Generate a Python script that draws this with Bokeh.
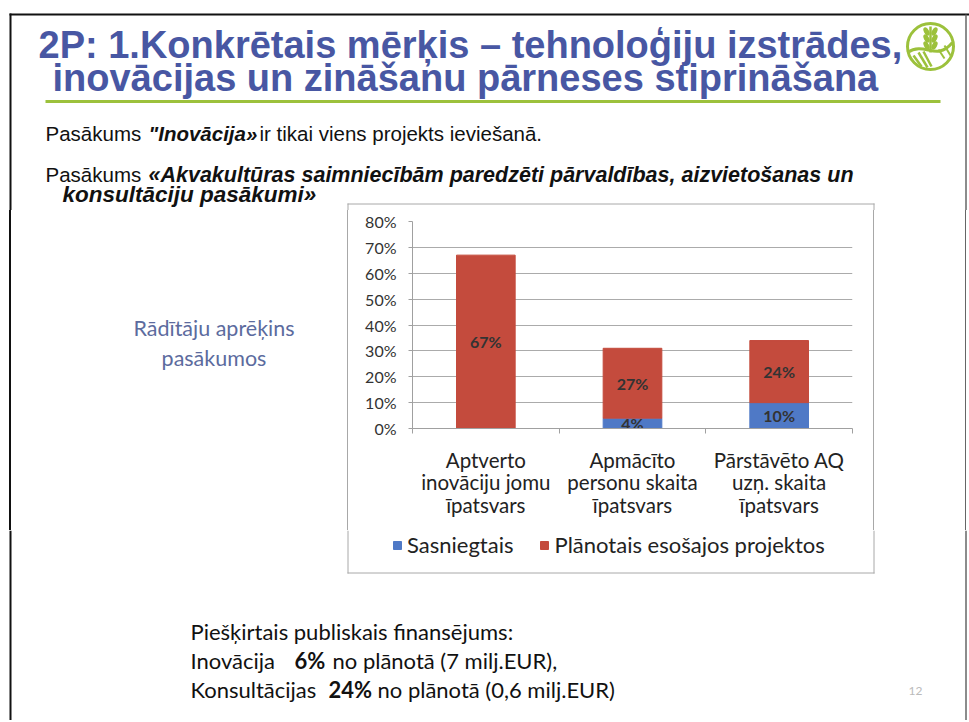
from bokeh.plotting import figure
from bokeh.models import (Range1d, FixedTicker, NumeralTickFormatter, Legend,
                          LegendItem, ColumnDataSource, Div)
from bokeh.layouts import column, row
from bokeh.core.properties import value
from bokeh.embed import file_html
from bokeh.resources import INLINE

# ---------------- data ----------------
categories = ["Aptverto\ninovāciju jomu\nīpatsvars",
              "Apmācīto\npersonu skaita\nīpatsvars",
              "Pārstāvēto AQ\nuzņ. skaita\nīpatsvars"]
achieved = [0.00, 0.04, 0.10]
planned = [0.67, 0.27, 0.24]
series_names = ["Sasniegtais", "Plānotais esošajos projektos"]
y_ticks = [0.0, 0.1, 0.2, 0.3, 0.4, 0.5, 0.6, 0.7, 0.8]
grid_ticks = [0.1, 0.2, 0.3, 0.4, 0.5, 0.6, 0.7]

BLUE = "#4F79C6"
RED = "#C44B3D"
SERIES_COLORS = [BLUE, RED]
TITLE_BLUE = "#4857A3"
GREEN = "#9CC13C"
BOX = "#A8A8A8"
EDGE = "#111111"
CHART_FONT = "Lato"
SLIDE_FONT = "Liberation Sans"


def deco(x0, x1, y0, y1):
    p = figure(width=x1 - x0, height=y1 - y0, x_range=Range1d(x0, x1),
               y_range=Range1d(y1, y0), toolbar_location=None,
               output_backend="svg", min_border=0, x_axis_location=None,
               y_axis_location=None, outline_line_color=None,
               background_fill_color="white", border_fill_color="white")
    p.grid.visible = False
    return p


def txt(p, x, y, s, font, size, color="#111111", style="normal", align="left"):
    p.text(x=[x], y=[y], text=[s], text_font=value(font), text_font_size=size,
           text_font_style=style, text_color=color, text_align=align,
           text_baseline="middle")


# ---------------- top area ----------------
top = deco(0, 969, 0, 210)
top.line([9, 969], [14, 14], line_color=EDGE, line_width=2)
top.line([10, 10], [13, 210], line_color=EDGE, line_width=2)
top.line([965.5, 965.5], [14, 210], line_color="#666666", line_width=1.5)
txt(top, 38, 44, "2P: 1.Konkrētais mērķis – tehnoloģiju izstrādes,", SLIDE_FONT,
    "38px", TITLE_BLUE, "bold")
txt(top, 52, 77, "inovācijas un zināšanu pārneses stiprināšana", SLIDE_FONT,
    "38px", TITLE_BLUE, "bold")
top.line([45, 940], [101, 101], line_color=GREEN, line_width=3)
# logo
top.circle(x=[930], y=[46], radius=23, fill_color=None, line_color=GREEN, line_width=3)
top.line([930, 930], [26, 52], line_color=GREEN, line_width=2.5)
top.ellipse(x=[926, 934, 926, 934, 926, 934], y=[31, 31, 38, 38, 45, 45],
            width=5, height=9, angle=[0.5, -0.5, 0.5, -0.5, 0.5, -0.5],
            fill_color=GREEN, line_color=None)
top.bezier(x0=[907], y0=[52], x1=[952], y1=[42], cx0=[925], cy0=[40],
           cx1=[935], cy1=[62], line_color=GREEN, line_width=3)
top.segment(x0=[913, 918, 923], y0=[55, 52, 51], x1=[921, 927, 931],
            y1=[66, 67, 66], line_color=GREEN, line_width=2.5)
top.segment(x0=[938, 944], y0=[49, 45], x1=[944, 950], y1=[58, 55],
            line_color=GREEN, line_width=2)
# body lines
txt(top, 45, 133, "Pasākums", SLIDE_FONT, "20.5px")
txt(top, 148, 133, "\"Inovācija»", SLIDE_FONT, "20.5px", style="bold italic")
txt(top, 259, 133, "ir tikai viens projekts ieviešanā.", SLIDE_FONT, "20.5px")
txt(top, 45, 174, "Pasākums", SLIDE_FONT, "20.5px")
txt(top, 148, 174, "«Akvakultūras saimniecībām paredzēti pārvaldības, aizvietošanas un",
    SLIDE_FONT, "21.5px", style="bold italic")
txt(top, 62, 194, "konsultāciju pasākumi»", SLIDE_FONT, "22.5px", style="bold italic")
# chart box top corners
top.line([347, 874], [203.5, 203.5], line_color=BOX, line_width=1)
top.line([347.5, 347.5], [203, 210], line_color=BOX, line_width=1)
top.line([873.5, 873.5], [203, 210], line_color=BOX, line_width=1)

# ---------------- middle left / right ----------------
MID_H = 320
left = Div(
    text=('<div style="box-sizing:border-box; width:348px; padding-left:80px; '
          'padding-top:103px; text-align:center; font-family:Lato; font-size:21.5px; '
          'line-height:30px; color:#5C6B9E;">Rādītāju aprēķins<br>pasākumos</div>'),
    width=348, height=MID_H,
    styles={"background": ("linear-gradient(to right, #ffffff 0px, #ffffff 9px, "
                           "#111111 9px, #111111 11px, #ffffff 11px, #ffffff 347px, "
                           "#A8A8A8 347px, #A8A8A8 348px)"),
            "margin": "0", "padding": "0"})
right = Div(
    text="", width=96, height=MID_H,
    styles={"background": ("linear-gradient(to right, #A8A8A8 0px, #A8A8A8 1px, "
                           "#ffffff 1px, #ffffff 92px, #666666 92px, #666666 93.5px, "
                           "#ffffff 93.5px)"),
            "margin": "0", "padding": "0"})

# ---------------- chart ----------------
xs = [i + 0.5 for i in range(len(categories))]
src = ColumnDataSource(dict(x=xs, achieved=achieved, planned=planned))
chart = figure(width=525, height=MID_H, x_range=Range1d(0, len(categories)),
               y_range=Range1d(y_ticks[0], y_ticks[-1]), toolbar_location=None,
               output_backend="svg", min_border_left=64, min_border_right=21,
               min_border_top=11, min_border_bottom=MID_H - 11 - 207,
               outline_line_color=None,
               background_fill_color="white", border_fill_color="white")
rs = chart.vbar_stack(["achieved", "planned"], x="x", width=0.4, color=SERIES_COLORS,
                      source=src)

lab_x, lab_y, lab_t = [], [], []
for x, a, pl in zip(xs, achieved, planned):
    if a > 0:
        lab_x.append(x); lab_y.append(a / 2); lab_t.append(f"{round(a * 100)}%")
    if pl > 0:
        lab_x.append(x); lab_y.append(a + pl / 2); lab_t.append(f"{round(pl * 100)}%")
chart.text(x=lab_x, y=lab_y, text=lab_t, text_align="center", text_baseline="middle",
           text_font=value(CHART_FONT), text_font_size="16px", text_font_style="bold",
           text_color="#333333")

chart.xgrid.visible = False
chart.ygrid.ticker = FixedTicker(ticks=grid_ticks)
chart.ygrid.grid_line_color = "#ABABAB"

ya = chart.yaxis[0]
ya.ticker = FixedTicker(ticks=y_ticks)
ya.formatter = NumeralTickFormatter(format="0%")
ya.axis_line_color = "#A0A0A0"
ya.major_tick_line_color = "#A0A0A0"
ya.major_tick_out = 4
ya.major_tick_in = 0
ya.minor_tick_line_color = None
ya.major_label_standoff = 12
ya.major_label_text_font = CHART_FONT
ya.major_label_text_font_size = "16px"
ya.major_label_text_color = "#333333"

xa = chart.xaxis[0]
xa.ticker = FixedTicker(ticks=xs, minor_ticks=list(range(len(categories) + 1)))
xa.major_label_overrides = {x: c for x, c in zip(xs, categories)}
xa.axis_line_color = "#A0A0A0"
xa.major_tick_line_color = None
xa.minor_tick_line_color = "#A0A0A0"
xa.minor_tick_out = 5
xa.minor_tick_in = 0
xa.major_label_standoff = 13
xa.major_label_text_font = CHART_FONT
xa.major_label_text_font_size = "20.5px"
xa.major_label_text_color = "#222222"
xa.major_label_text_line_height = 0.94

# ---------------- bottom (legend + text) ----------------
BOT_Y0 = 210 + MID_H
bottom = deco(0, 969, BOT_Y0, 720)
bottom.line([10, 10], [BOT_Y0, 720], line_color=EDGE, line_width=2)
bottom.line([965.5, 965.5], [BOT_Y0, 720], line_color="#666666", line_width=1.5)
bottom.line([347.5, 347.5], [BOT_Y0, 573], line_color=BOX, line_width=1)
bottom.line([873.5, 873.5], [BOT_Y0, 573], line_color=BOX, line_width=1)
bottom.line([347, 874], [572.5, 572.5], line_color=BOX, line_width=1)

# legend for the chart series: swatch renderers hold no visible point
nan = float("nan")
swatches = [bottom.vbar(x=[nan], top=[nan], width=1, fill_color=c, line_color=c)
            for c in SERIES_COLORS]
legend = Legend(items=[LegendItem(label=n, renderers=[r])
                       for n, r in zip(series_names, swatches)],
                orientation="horizontal", location=(392, 720 - 558), glyph_width=10,
                glyph_height=10, label_standoff=5, spacing=26, padding=0, margin=0,
                border_line_color=None, background_fill_alpha=0,
                label_text_font=CHART_FONT, label_text_font_size="22px",
                label_text_color="#222222")
bottom.add_layout(legend, "center")

txt(bottom, 190, 631, "Piešķirtais publiskais finansējums:", CHART_FONT, "22px")
txt(bottom, 190, 660, "Inovācija", CHART_FONT, "22px")
txt(bottom, 294, 660, "6%", CHART_FONT, "22px", style="bold")
txt(bottom, 332, 660, "no plānotā (7 milj.EUR),", CHART_FONT, "22px")
txt(bottom, 190, 689, "Konsultācijas", CHART_FONT, "22px")
txt(bottom, 328, 689, "24%", CHART_FONT, "22px", style="bold")
txt(bottom, 377, 689, "no plānotā (0,6 milj.EUR)", CHART_FONT, "22px")
txt(bottom, 915, 690, "12", CHART_FONT, "12px", "#BBBBBB", align="center")

layout = column(top, row(left, chart, right), bottom)
open("out.html", "w").write(file_html(layout, INLINE))
